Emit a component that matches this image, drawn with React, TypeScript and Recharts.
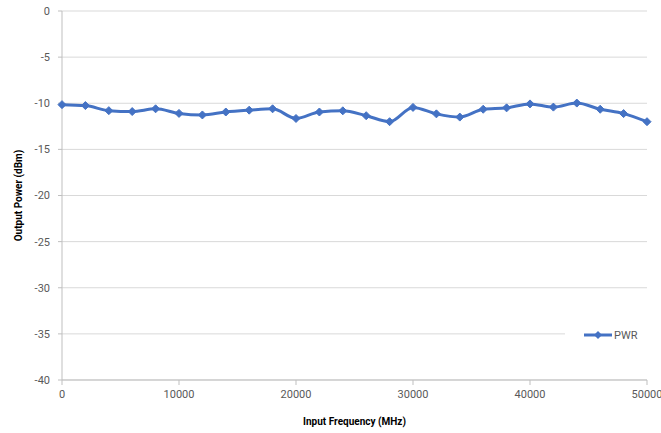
import React from "react";
import { LineChart, Line, XAxis, YAxis, CartesianGrid, Legend } from "recharts";

const frequencies = [0, 2000, 4000, 6000, 8000, 10000, 12000, 14000, 16000, 18000, 20000, 22000, 24000, 26000, 28000, 30000, 32000, 34000, 36000, 38000, 40000, 42000, 44000, 46000, 48000, 50000];
const pwr = [-10.15, -10.25, -10.8, -10.9, -10.6, -11.1, -11.27, -10.95, -10.75, -10.6, -11.65, -10.95, -10.82, -11.35, -12.0, -10.45, -11.15, -11.5, -10.65, -10.5, -10.07, -10.42, -9.98, -10.65, -11.12, -12.0];
const xTicks = [0, 10000, 20000, 30000, 40000, 50000];
const yTicks = [0, -5, -10, -15, -20, -25, -30, -35, -40];

const data = frequencies.map((f, i) => ({ freq: f, PWR: pwr[i] }));

const COLOR = "#4472C4";
const FONT = "Roboto, 'Open Sans', sans-serif";

const Diamond = (props: any) => {
  const { cx, cy, index } = props;
  if (cx == null || cy == null) return <g key={index} />;
  const r = 4;
  return (
    <polygon
      key={index}
      points={`${cx},${cy - r} ${cx + r},${cy} ${cx},${cy + r} ${cx - r},${cy}`}
      fill={COLOR}
      stroke={COLOR}
      strokeWidth={1}
    />
  );
};

const LegendContent = () => (
  <div style={{ display: "flex", alignItems: "center", background: "#fff", height: 20, fontFamily: FONT, fontSize: 11, color: "#595959" }}>
    <svg width={30} height={12} style={{ marginLeft: 18 }}>
      <line x1={1} y1={6} x2={29} y2={6} stroke={COLOR} strokeWidth={3} />
      <polygon points="15,2 19,6 15,10 11,6" fill={COLOR} />
    </svg>
    <span style={{ marginLeft: 1 }}>PWR</span>
  </div>
);

export default function App() {
  return (
    <div style={{ position: "absolute", left: 0, top: 0, width: 661, height: 433, background: "#fff" }}>
      <LineChart width={661} height={433} data={data} margin={{ top: 11, right: 14, bottom: 0, left: 0 }}>
        <CartesianGrid horizontal={true} vertical={false} stroke="#d9d9d9" strokeWidth={1} />
        <XAxis
          dataKey="freq"
          type="number"
          domain={[0, 50000]}
          ticks={xTicks}
          interval={0}
          axisLine={{ stroke: "#bfbfbf" }}
          tickLine={{ stroke: "#bfbfbf" }}
          tickSize={5}
          tick={{ fill: "#595959", fontSize: 11, fontFamily: FONT }}
          tickMargin={5}
          label={{ value: "Input Frequency (MHz)", position: "insideBottom", offset: 8, fill: "#000", fontSize: 10, fontWeight: "bold", fontFamily: FONT }}
          height={53}
        />
        <YAxis
          type="number"
          domain={[-40, 0]}
          ticks={yTicks}
          interval={0}
          width={62}
          axisLine={{ stroke: "#bfbfbf" }}
          tickLine={{ stroke: "#bfbfbf" }}
          tickSize={4}
          tickMargin={8}
          tick={{ fill: "#595959", fontSize: 11, fontFamily: FONT }}
          label={{ value: "Output Power (dBm)", angle: -90, position: "insideLeft", offset: 0, dx: 18, fill: "#000", fontSize: 10, fontWeight: "bold", fontFamily: FONT, style: { textAnchor: "middle" } }}
        />
        <Legend
          layout="horizontal"
          align="center"
          verticalAlign="middle"
          content={<LegendContent />}
          wrapperStyle={{ position: "absolute", left: 565, top: 325, width: 82, height: 20 }}
        />
        <Line
          type="monotone"
          dataKey="PWR"
          stroke={COLOR}
          strokeWidth={3}
          dot={<Diamond />}
          activeDot={false}
          isAnimationActive={false}
        />
      </LineChart>
    </div>
  );
}
